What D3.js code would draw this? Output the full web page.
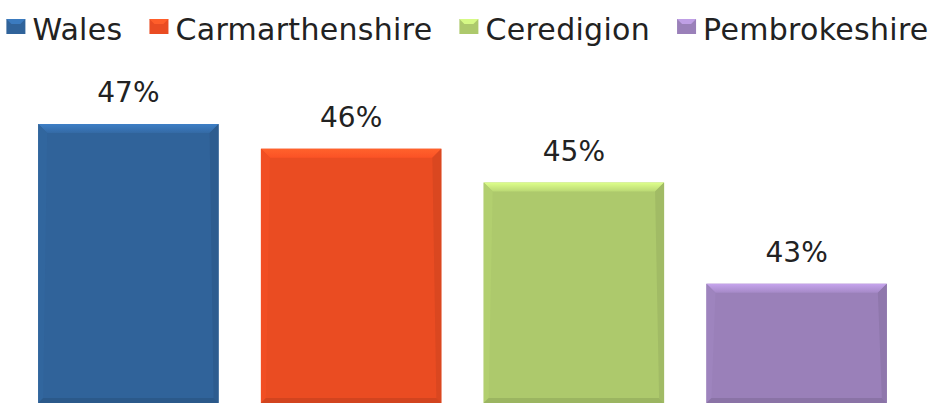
<!DOCTYPE html>
<html><head><meta charset="utf-8">
<script src="https://cdn.jsdelivr.net/npm/d3@7/dist/d3.min.js"></script>
<style>body{margin:0;background:#fff}svg{display:block}</style>
</head><body>
<svg id="c" width="945" height="406"></svg>
<script>
const categories = ["Wales","Carmarthenshire","Ceredigion","Pembrokeshire"];
const values = [46.7, 46.15, 45.4, 43.15];
const colors = ["#30639a","#ea4c22","#adc96c","#9a80b9"];

const W = 945, H = 406;
const svg = d3.select("#c");
const x = d3.scaleBand().domain(categories).range([17, 908]).paddingInner(0.19).paddingOuter(0.095);
const y = d3.scaleLinear().domain([40.5, 47.5]).range([403, 88]);

const defs = svg.append("defs");
categories.forEach((c,i)=>{
  const base = d3.color(colors[i]);
  const g = defs.append("linearGradient").attr("id","t"+i).attr("x1",0).attr("x2",0).attr("y1",0).attr("y2",1);
  g.append("stop").attr("offset","0%").attr("stop-color", base.brighter(0.7));
  g.append("stop").attr("offset","100%").attr("stop-color", base.brighter(0.2));
});

const bars = svg.append("g").selectAll("g").data(categories).join("g");
bars.each(function(c,i){
  const g = d3.select(this);
  const x0 = x(c), w = x.bandwidth(), y0 = y(values[i]), y1 = y.range()[0];
  const b = 9, s = 5;
  const base = d3.color(colors[i]);
  g.append("rect").attr("x",x0).attr("y",y0).attr("width",w).attr("height",y1-y0).attr("fill",base);
  // top bevel
  g.append("path").attr("d",`M${x0},${y0}L${x0+w},${y0}L${x0+w-b},${y0+b}L${x0+b},${y0+b}Z`)
    .attr("fill", "url(#t"+i+")");
  // left side
  g.append("path").attr("d",`M${x0},${y0}L${x0+b},${y0+b}L${x0+s},${y1-s}L${x0},${y1}Z`)
    .attr("fill", base.brighter(0.08));
  // right side
  g.append("path").attr("d",`M${x0+w},${y0}L${x0+w-b},${y0+b}L${x0+w-s},${y1-s}L${x0+w},${y1}Z`)
    .attr("fill", base.darker(0.2));
  // bottom
  g.append("path").attr("d",`M${x0},${y1}L${x0+s},${y1-s}L${x0+w-s},${y1-s}L${x0+w},${y1}Z`)
    .attr("fill", base.darker(0.3));
});

svg.append("g").selectAll("text").data(categories).join("text")
  .attr("x", c => x(c) + x.bandwidth()/2)
  .attr("y", (c,i) => y(values[i]) - 22)
  .attr("text-anchor","middle")
  .attr("font-family","DejaVu Sans")
  .attr("font-size",28)
  .attr("fill","#222")
  .text((c,i) => Math.round(values[i]) + "%");

// legend
const lg = svg.append("g");
const items = lg.selectAll("g").data(categories).join("g");
items.append("rect").attr("x",0).attr("y",19).attr("width",19).attr("height",15)
  .attr("fill",(c,i)=>colors[i]);
items.append("path").attr("d","M0,19L19,19L14,24L5,24Z")
  .attr("fill",(c,i)=>d3.color(colors[i]).brighter(0.6));
items.append("text").attr("x",26).attr("y",40)
  .attr("font-family","DejaVu Sans").attr("font-size",30).attr("letter-spacing",0.3).attr("fill","#222")
  .text(c=>c);
let cx = 0;
const widths = [];
items.each(function(){
  const tw = d3.select(this).select("text").node().getComputedTextLength();
  widths.push(26 + tw);
});
const gap = 27;
const total = d3.sum(widths) + gap*(widths.length-1);
cx = (W - total)/2 - 5;
items.each(function(c,i){
  d3.select(this).attr("transform",`translate(${cx},0)`);
  cx += widths[i] + gap;
});
</script>
</body></html>
